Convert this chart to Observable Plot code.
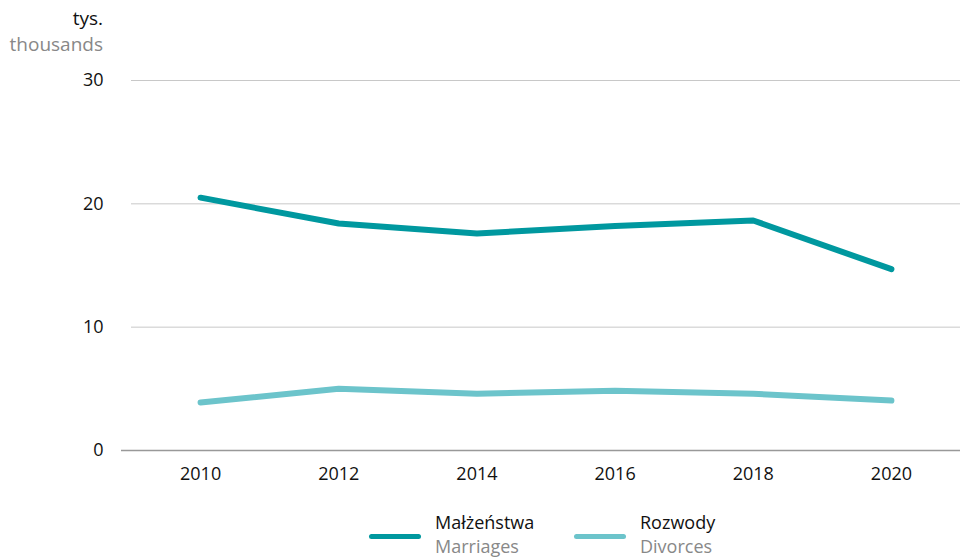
<!DOCTYPE html>
<html><head><meta charset="utf-8">
<script src="https://cdn.jsdelivr.net/npm/d3@7"></script>
<script src="https://cdn.jsdelivr.net/npm/@observablehq/plot@0.6"></script>
<style>
body{margin:0;background:#fff;font-family:"Open Sans",sans-serif;}
#wrap{position:relative;width:963px;height:558px;overflow:hidden;}
.lab{position:absolute;font-size:19px;line-height:26px;white-space:nowrap;}
.unit{right:860px;text-align:right;}
.leg{position:absolute;top:510px;display:flex;align-items:flex-start;}
.sw{width:52px;height:5px;border-radius:3px;margin-top:24px;margin-right:14px;}
.t1{color:#111;font-size:18px;line-height:24px;}
.t2{color:#888;font-size:18px;line-height:24px;}
</style></head>
<body><div id="wrap"></div>
<script>
const years = [2010, 2012, 2014, 2016, 2018, 2020];
const marriages = [20.5, 18.4, 17.6, 18.2, 18.65, 14.7];
const divorces = [3.9, 5.0, 4.6, 4.85, 4.6, 4.05];
const yTicks = [0, 10, 20, 30];
const seriesNames = [["Małżeństwa", "Marriages"], ["Rozwody", "Divorces"]];
const colors = ["#00989f", "#6cc4cb"];

const data = [
  ...years.map((y, i) => ({year: y, value: marriages[i], s: 0})),
  ...years.map((y, i) => ({year: y, value: divorces[i], s: 1}))
];

const chart = Plot.plot({
  width: 963, height: 558,
  marginTop: 80, marginBottom: 108, marginLeft: 131, marginRight: 3,
  style: {fontFamily: "'Open Sans', sans-serif", fontSize: "18px", color: "#111"},
  x: {domain: [2009, 2021], ticks: years, tickFormat: d => String(d), tickSize: 0, tickPadding: 17, label: null},
  y: {domain: [0, 30], ticks: yTicks, tickSize: 0, tickPadding: 28, label: null},
  marks: [
    Plot.ruleY(yTicks.filter(d => d > 0), {stroke: "#c8c8c8", strokeWidth: 1}),
    Plot.ruleY([0], {stroke: "#999", strokeWidth: 1.6, insetLeft: -10}),
    Plot.line(data, {x: "year", y: "value", z: "s", stroke: d => colors[d.s], strokeWidth: 6, strokeLinecap: "round", strokeLinejoin: "round"})
  ]
});
const wrap = document.getElementById("wrap");
chart.style.position = "absolute"; chart.style.left = "0"; chart.style.top = "0";
wrap.appendChild(chart);

function lab(text, top, color, cls){
  const d = document.createElement("div");
  d.className = "lab " + cls; d.textContent = text; d.style.top = top + "px"; d.style.color = color;
  wrap.appendChild(d);
}
lab("tys.", 5, "#111", "unit");
lab("thousands", 31, "#888", "unit");

const legX = [369, 574];
seriesNames.forEach((n, i) => {
  const g = document.createElement("div");
  g.className = "leg"; g.style.left = legX[i] + "px";
  g.innerHTML = `<div class="sw" style="background:${colors[i]}"></div><div><div class="t1">${n[0]}</div><div class="t2">${n[1]}</div></div>`;
  wrap.appendChild(g);
});
</script></body></html>
